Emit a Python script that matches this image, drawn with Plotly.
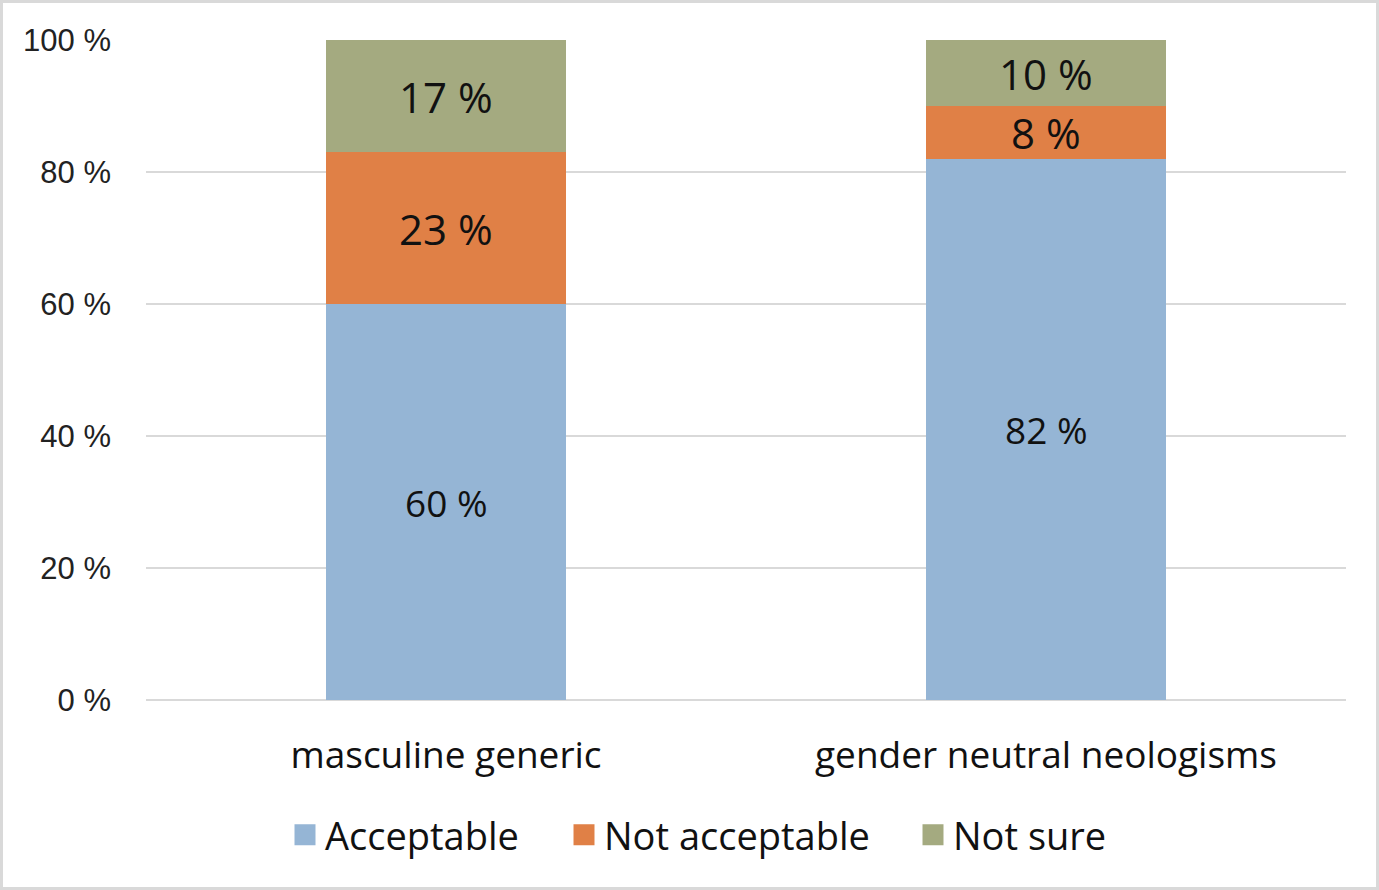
import plotly.graph_objects as go

# Survey answers, share of respondents per category (percent)
categories = ["masculine generic", "gender neutral neologisms"]
series_names = ["Acceptable", "Not acceptable", "Not sure"]
acceptable = [60, 82]
not_acceptable = [23, 8]
not_sure = [17, 10]
y_ticks = [0, 20, 40, 60, 80, 100]
y_tick_labels = ["0 %", "20 %", "40 %", "60 %", "80 %", "100 %"]

colors = ["#95B5D5", "#E08046", "#A4AA80"]
label_sizes = [37, 42, 42]

W, H = 1379, 890
ML, MR, MT, MB = 146, 33, 40, 190
PW, PH = W - ML - MR, H - MT - MB

px = lambda p: (p - ML) / PW
py = lambda p: (MT + PH - p) / PH

fig = go.Figure()
series = [acceptable, not_acceptable, not_sure]
for name, vals, col in zip(series_names, series, colors):
    fig.add_trace(go.Bar(
        x=categories, y=vals, name=name, showlegend=False,
        marker=dict(color=col, line=dict(width=0)),
        hoverinfo="x+y+name",
    ))

# Legend entries: one square swatch per series, each in its own legend box
legend_left = [285, 564, 913]
legend_ids = ["legend", "legend2", "legend3"]
for name, col, lid in zip(series_names, colors, legend_ids):
    fig.add_trace(go.Scatter(
        x=[None], y=[None], mode="markers", name=name, legend=lid,
        marker=dict(symbol="square", size=16, color=col,
                    line=dict(color=col, width=6)),
        showlegend=True, hoverinfo="skip",
    ))

# Value labels centred in each stacked segment
base = [0] * len(categories)
for vals, size in zip(series, label_sizes):
    for i, (cat, v) in enumerate(zip(categories, vals)):
        fig.add_annotation(
            x=cat, y=base[i] + v / 2, text=f"{v} %", showarrow=False,
            font=dict(family="Open Sans", size=size, color="#111111"),
            xanchor="center", yanchor="middle",
        )
        base[i] += v

# Light grey frame around the whole chart
fig.add_shape(type="rect", xref="paper", yref="paper",
              x0=px(1.5), x1=px(W - 1.5), y0=py(H - 1.5), y1=py(1.5),
              line=dict(color="#D9D9D9", width=3), fillcolor="rgba(0,0,0,0)",
              layer="below")

legend_style = dict(
    orientation="h", xanchor="left", y=py(835), yanchor="middle",
    font=dict(family="Open Sans", size=38, color="#111111"),
    bgcolor="rgba(0,0,0,0)", borderwidth=0,
)
legends = {lid: dict(legend_style, x=px(left)) for lid, left in zip(legend_ids, legend_left)}

fig.update_layout(
    width=W, height=H,
    margin=dict(l=ML, r=MR, t=MT, b=MB, pad=0),
    barmode="stack", bargap=0.6,
    plot_bgcolor="white", paper_bgcolor="white",
    xaxis=dict(
        showgrid=False, showline=False, zeroline=False, ticks="",
        tickfont=dict(family="Open Sans", size=37, color="#111111"),
        ticklabelstandoff=30,
    ),
    yaxis=dict(
        range=[0, 100], tickvals=y_ticks, ticktext=y_tick_labels,
        showgrid=True, gridcolor="#D9D9D9", gridwidth=2,
        zeroline=True, zerolinecolor="#D9D9D9", zerolinewidth=2,
        showline=False, ticks="",
        tickfont=dict(family="Liberation Sans", size=31, color="#222222"),
        ticklabelstandoff=34,
    ),
    **legends,
)

fig.write_html("out.html")
